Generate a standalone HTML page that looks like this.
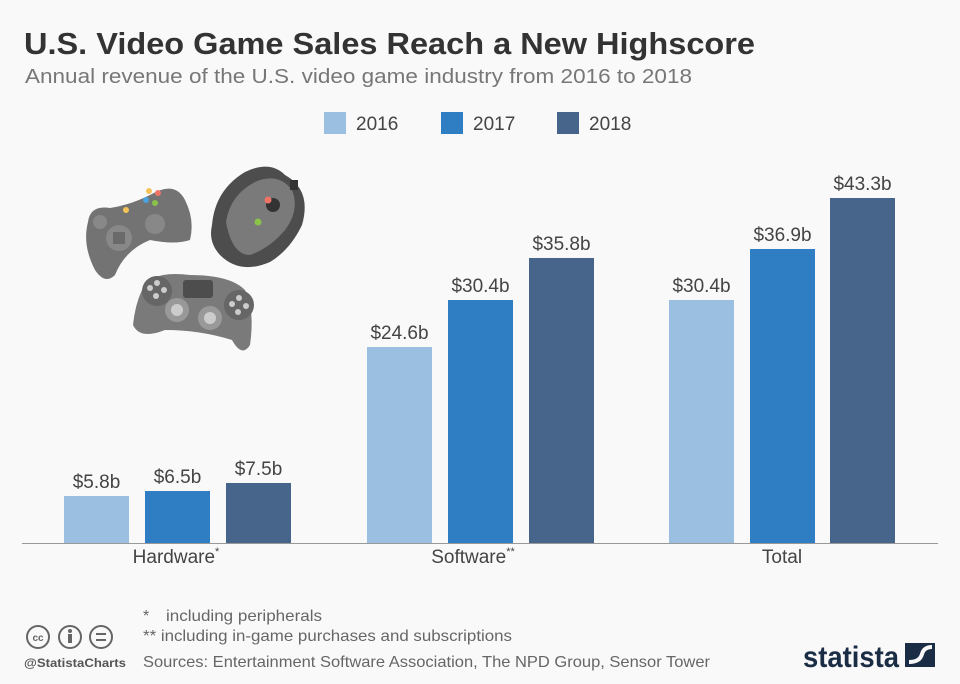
<!DOCTYPE html>
<html><head><meta charset="utf-8"><style>
html,body{margin:0;padding:0;background:#f9f9f9}
svg{display:block;font-family:"Liberation Sans",sans-serif}
</style></head><body>
<svg width="960" height="684" viewBox="0 0 960 684">
<rect width="960" height="684" fill="#f9f9f9"/>
<text x="24" y="54" font-size="31" font-weight="bold" fill="#333" textLength="731" lengthAdjust="spacingAndGlyphs">U.S. Video Game Sales Reach a New Highscore</text>
<text x="25" y="83" font-size="20" fill="#777" textLength="667" lengthAdjust="spacingAndGlyphs">Annual revenue of the U.S. video game industry from 2016 to 2018</text>
<rect x="324" y="112" width="22" height="22" fill="#9bbfe1"/><text x="356" y="130" font-size="19" fill="#444">2016</text>
<rect x="441" y="112" width="22" height="22" fill="#2f7dc3"/><text x="473" y="130" font-size="19" fill="#444">2017</text>
<rect x="557" y="112" width="22" height="22" fill="#47648b"/><text x="589" y="130" font-size="19" fill="#444">2018</text>
<g>
<path d="M88 222 Q90 205 110 208 Q130 205 150 195 Q175 180 185 200 Q195 220 190 240 Q175 245 150 240 Q125 250 115 275 Q105 285 95 270 Q82 245 88 222Z" fill="#737373"/>
<circle cx="100" cy="222" r="7" fill="#888"/><circle cx="119" cy="238" r="13" fill="#888"/><rect x="113" y="232" width="12" height="12" fill="#6a6a6a"/>
<circle cx="155" cy="224" r="10" fill="#888"/>
<circle cx="126" cy="210" r="3" fill="#f5c35a"/><circle cx="149" cy="191" r="3" fill="#f5c35a"/><circle cx="158" cy="193" r="3" fill="#ee7466"/><circle cx="146" cy="200" r="3" fill="#4aa3df"/><circle cx="155" cy="203" r="3" fill="#8bc34a"/>
<path d="M212 225 Q215 190 245 172 Q270 160 285 175 Q312 190 302 225 Q290 250 270 262 Q240 275 220 255 Q208 242 212 225Z" fill="#4d4d4d"/>
<path d="M226 222 Q230 195 255 182 Q278 172 292 190 Q300 210 285 230 Q270 248 250 255 Q232 255 226 222Z" fill="#7a7a7a"/>
<circle cx="273" cy="205" r="7" fill="#333"/><rect x="290" y="180" width="8" height="10" fill="#333"/>
<circle cx="268" cy="200" r="3.5" fill="#ee7466"/><circle cx="258" cy="222" r="3.5" fill="#8bc34a"/>
<path d="M142 290 Q150 270 190 275 Q230 275 245 290 Q255 310 250 345 Q242 358 232 340 Q200 330 165 330 Q140 340 133 325 Q135 305 142 290Z" fill="#7a7a7a"/>
<circle cx="157" cy="291" r="15" fill="#666"/><circle cx="239" cy="305" r="15" fill="#666"/>
<rect x="183" y="280" width="30" height="18" rx="3" fill="#4d4d4d"/>
<circle cx="177" cy="310" r="12" fill="#999"/><circle cx="210" cy="318" r="12" fill="#999"/><circle cx="177" cy="310" r="6" fill="#ccc"/><circle cx="210" cy="318" r="6" fill="#ccc"/>
<g fill="#ccc"><circle cx="150" cy="288" r="3"/><circle cx="157" cy="283" r="3"/><circle cx="164" cy="290" r="3"/><circle cx="156" cy="296" r="3"/><circle cx="232" cy="304" r="3"/><circle cx="239" cy="298" r="3"/><circle cx="246" cy="306" r="3"/><circle cx="238" cy="312" r="3"/></g>
</g>
<g font-size="19" fill="#444" text-anchor="middle">
<rect x="64" y="496" width="65" height="47" fill="#9bbfe1"/><text x="96.5" y="488">$5.8b</text>
<rect x="145" y="491" width="65" height="52" fill="#2f7dc3"/><text x="177.5" y="483">$6.5b</text>
<rect x="226" y="483" width="65" height="60" fill="#47648b"/><text x="258.5" y="475">$7.5b</text>
<rect x="367" y="347" width="65" height="196" fill="#9bbfe1"/><text x="399.5" y="339">$24.6b</text>
<rect x="448" y="300" width="65" height="243" fill="#2f7dc3"/><text x="480.5" y="292">$30.4b</text>
<rect x="529" y="258" width="65" height="285" fill="#47648b"/><text x="561.5" y="250">$35.8b</text>
<rect x="669" y="300" width="65" height="243" fill="#9bbfe1"/><text x="701.5" y="292">$30.4b</text>
<rect x="750" y="249" width="65" height="294" fill="#2f7dc3"/><text x="782.5" y="241">$36.9b</text>
<rect x="830" y="198" width="65" height="345" fill="#47648b"/><text x="862.5" y="190">$43.3b</text>
<text x="176" y="563">Hardware<tspan font-size="11" dy="-8">*</tspan></text>
<text x="473" y="563">Software<tspan font-size="11" dy="-8">**</tspan></text>
<text x="782" y="563">Total</text>
</g>
<line x1="22" y1="543.5" x2="938" y2="543.5" stroke="#999" stroke-width="1"/>
<g font-size="16" fill="#666">
<text x="143" y="621">*</text>
<text x="166" y="621" textLength="156" lengthAdjust="spacingAndGlyphs">including peripherals</text>
<text x="143" y="641" textLength="369" lengthAdjust="spacingAndGlyphs">** including in-game purchases and subscriptions</text>
<text x="143" y="667" textLength="567" lengthAdjust="spacingAndGlyphs">Sources: Entertainment Software Association, The NPD Group, Sensor Tower</text>
</g>
<g fill="none" stroke="#666" stroke-width="2">
<circle cx="38" cy="637" r="11"/><circle cx="70" cy="637" r="11"/><circle cx="101" cy="637" r="11"/>
</g>
<text x="38" y="641" font-size="10" font-weight="bold" fill="#666" text-anchor="middle">cc</text>
<circle cx="70" cy="631" r="2" fill="#666"/><rect x="68" y="634" width="4" height="9" fill="#666"/>
<rect x="96" y="633" width="10" height="2" fill="#666"/><rect x="96" y="639" width="10" height="2" fill="#666"/>
<text x="24" y="667" font-size="12" font-weight="bold" fill="#555" textLength="102" lengthAdjust="spacingAndGlyphs">@StatistaCharts</text>
<text x="803" y="667" font-size="30" font-weight="bold" fill="#1a2d45" textLength="96" lengthAdjust="spacingAndGlyphs">statista</text>
<rect x="905" y="643" width="30" height="24" fill="#1a2d45"/>
<path d="M909 662 Q920 662 922 654 Q924 647 932 647" stroke="#f9f9f9" stroke-width="4" fill="none"/>
</svg>
</body></html>
